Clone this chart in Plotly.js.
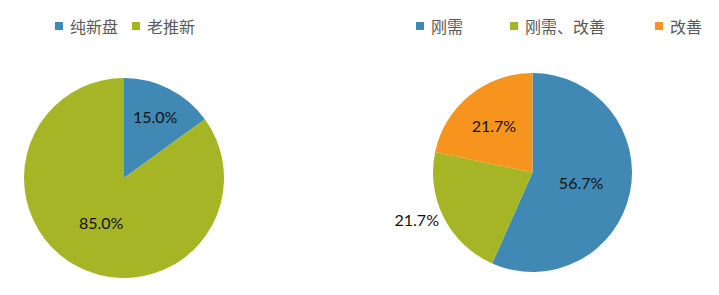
<!DOCTYPE html>
<html><head><meta charset="utf-8">
<script src="https://cdn.plot.ly/plotly-3.0.1.min.js"></script>
<style>body{margin:0;background:#fff}#c{width:719px;height:295px}</style>
</head><body><div id="c"></div>
<script>
const leftLabels = ['纯新盘', '老推新'];
const leftValues = [15.0, 85.0];
const rightLabels = ['刚需', '刚需、改善', '改善'];
const rightValues = [56.7, 21.7, 21.7];
const leftColors = ['#4189B5', '#A5B526'];
const rightColors = ['#4189B5', '#A5B526', '#F7941E'];

const W = 719, H = 295;
const fx = p => p / W, fy = p => 1 - p / H;

const labelFont = {family: 'Lato, "Noto Sans", sans-serif', size: 16, color: '#111'};
const legendFont = {family: '"Noto Sans CJK SC", sans-serif', size: 16, color: '#595959'};

const data = [
  {
    type: 'pie', labels: leftLabels, values: leftValues, sort: false,
    direction: 'clockwise', rotation: 0,
    marker: {colors: leftColors, line: {width: 0}},
    texttemplate: '%{value:.1f}%', textposition: 'inside',
    insidetextorientation: 'horizontal',
    textfont: labelFont, insidetextfont: labelFont,
    domain: {x: [fx(24), fx(224)], y: [fy(278), fy(78)]},
    hoverinfo: 'none', showlegend: false
  },
  {
    type: 'pie', labels: rightLabels, values: rightValues, sort: false,
    direction: 'clockwise', rotation: 0,
    marker: {colors: rightColors, line: {width: 0}},
    texttemplate: '%{value:.1f}%', textposition: ['inside', 'outside', 'inside'],
    insidetextorientation: 'horizontal',
    textfont: labelFont, insidetextfont: labelFont, outsidetextfont: labelFont,
    domain: {x: [fx(433), fx(632)], y: [fy(272), fy(73)]},
    hoverinfo: 'none', showlegend: false
  }
];

// Legend layout (pixel x of each key square; text follows the square)
const leftKeyX = [55, 132];
const rightKeyX = [416, 510, 655];
const keyY = 22, keySize = 8, keyTextGap = 5;

const shapes = [], annotations = [];
function addLegend(labels, colors, xs) {
  labels.forEach((lab, i) => {
    shapes.push({type: 'rect', xref: 'paper', yref: 'paper',
      x0: fx(xs[i]), x1: fx(xs[i] + keySize), y0: fy(keyY + keySize), y1: fy(keyY),
      fillcolor: colors[i], line: {width: 0}});
    annotations.push({xref: 'paper', yref: 'paper', x: fx(xs[i] + keySize + keyTextGap), y: fy(keyY + keySize / 2),
      xanchor: 'left', yanchor: 'middle', text: lab, showarrow: false, font: legendFont});
  });
}
addLegend(leftLabels, leftColors, leftKeyX);
addLegend(rightLabels, rightColors, rightKeyX);

const layout = {
  width: W, height: H,
  margin: {l: 0, r: 0, t: 0, b: 0},
  paper_bgcolor: '#fff', plot_bgcolor: '#fff',
  showlegend: false,
  shapes: shapes, annotations: annotations
};

Plotly.newPlot('c', data, layout, {displayModeBar: false, staticPlot: true});
</script>
</body></html>
